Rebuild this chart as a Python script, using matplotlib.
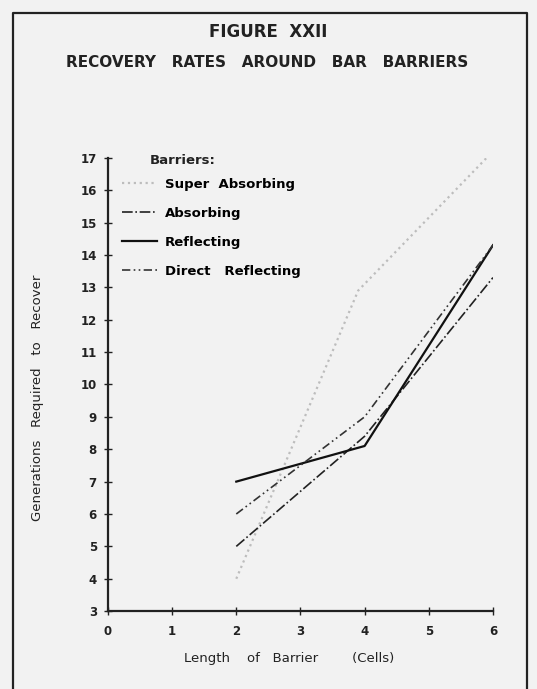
import numpy as np
import matplotlib
matplotlib.use("Agg")
import matplotlib.pyplot as plt
from matplotlib.lines import Line2D

# values
length = [2, 4, 6]
super_abs_x = [2, 3.9, 6]
super_abs = [4, 12.9, 17.2]
absorbing = [5, 8.4, 13.3]
reflecting = [7, 8.1, 14.3]
direct_refl = [6, 9, 14.3]

xticks = [0, 1, 2, 3, 4, 5, 6]
yticks = list(range(3, 18))

plt.rcParams['font.family'] = 'DejaVu Sans'
plt.rcParams['font.weight'] = 'bold'

fig = plt.figure(figsize=(5.37, 6.89), dpi=100)
fig.patch.set_facecolor('#f2f2f2')

# frame around the plate
fig.add_artist(Line2D([0.024, 0.024, 0.982, 0.982], [0.0, 0.981, 0.981, 0.0],
                      color='#222222', lw=1.6, transform=fig.transFigure))

ax = fig.add_axes([0.201, 0.113, 0.717, 0.658])
ax.set_facecolor('#f2f2f2')

ax.plot(super_abs_x, super_abs, color='#bdbdbd', lw=1.6, ls=':', label='Super  Absorbing')
ax.plot(length, absorbing, color='#222222', lw=1.2, ls='-.', label='Absorbing')
ax.plot(length, reflecting, color='#111111', lw=1.6, ls='-', label='Reflecting')
ax.plot(length, direct_refl, color='#333333', lw=1.2, ls=(0, (5, 2, 1, 2, 1, 2)),
        label='Direct   Reflecting')

ax.set_xlim(0, 6)
ax.set_ylim(3, 17)
ax.set_xticks(xticks)
ax.set_yticks(yticks)
ax.tick_params(axis='both', direction='inout', length=6, width=1, labelsize=8.5, colors='#222222')
ax.tick_params(axis='x', pad=7)
ax.tick_params(axis='y', pad=5)
for s in ['top', 'right']:
    ax.spines[s].set_visible(False)
for s in ['left', 'bottom']:
    ax.spines[s].set_linewidth(1.6)
    ax.spines[s].set_color('#222222')

ax.set_xlabel('Length    of   Barrier        (Cells)', fontsize=9.5, color='#222222')
ax.xaxis.set_label_coords(0.47, -0.09)
ax.set_ylabel('Generations   Required   to   Recover', fontsize=9.5, color='#222222')
ax.yaxis.set_label_coords(-0.165, 0.47)

leg = ax.legend(loc='upper left', bbox_to_anchor=(0.023, 0.967), frameon=False,
                fontsize=9.5, labelspacing=1.2, handlelength=2.65, handletextpad=0.6,
                borderaxespad=0)
ax.text(0.109, 0.995, 'Barriers:', transform=ax.transAxes, ha='left', va='center',
        fontsize=9.5, color='#222222')

fig.text(0.5, 0.953, 'FIGURE  XXII', ha='center', va='center', fontsize=12, color='#222222')
fig.text(0.497, 0.91, 'RECOVERY   RATES   AROUND   BAR   BARRIERS', ha='center', va='center',
         fontsize=11, color='#222222')

fig.savefig('out.png', dpi=100, facecolor=fig.get_facecolor())
